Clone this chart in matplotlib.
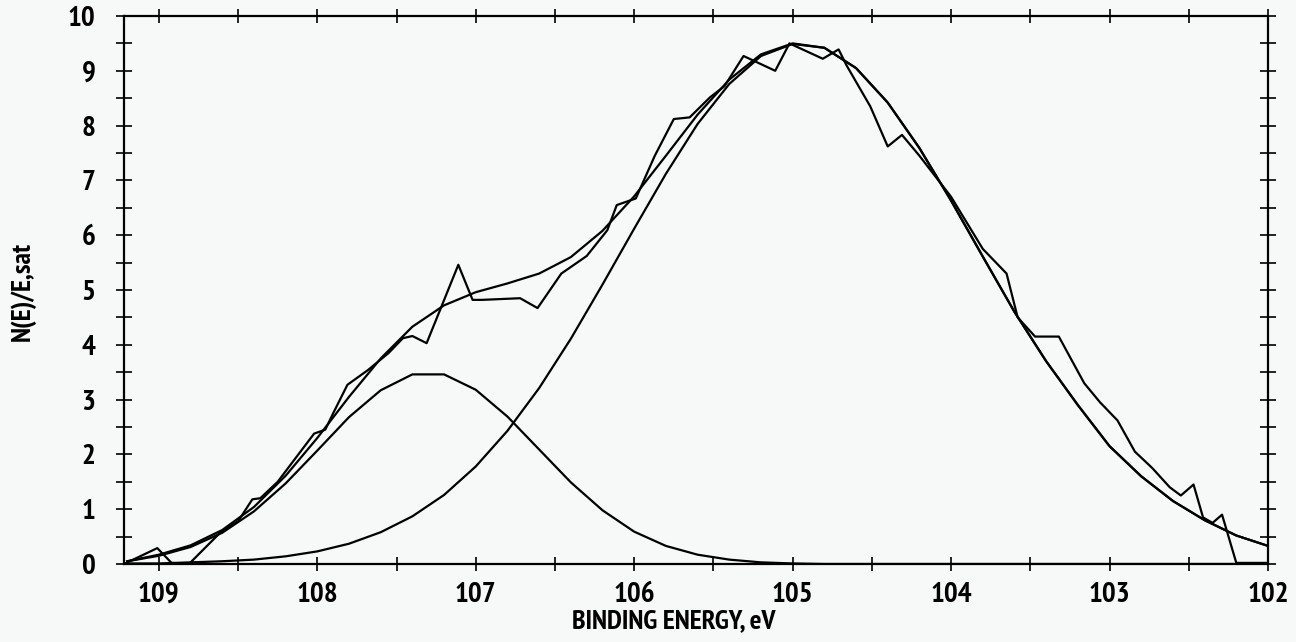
import matplotlib
matplotlib.use('Agg')
import matplotlib.pyplot as plt
from matplotlib.ticker import MultipleLocator, FormatStrFormatter

plt.rcParams['font.family'] = ['PT Sans Narrow', 'Roboto Condensed', 'Archivo Narrow', 'DejaVu Sans']

# measured spectrum (binding energy, eV)
data_energy = [109.22, 109.01, 108.92, 108.81, 108.61, 108.50, 108.41, 108.36, 108.25, 108.13,
               108.02, 107.95, 107.90, 107.81, 107.68, 107.55, 107.46, 107.40, 107.31, 107.11,
               107.02, 106.96, 106.72, 106.61, 106.46, 106.30, 106.17, 106.11, 105.99, 105.87,
               105.75, 105.65, 105.52, 105.43, 105.31, 105.11, 105.02, 104.81, 104.71, 104.66,
               104.51, 104.40, 104.31, 104.20, 104.00, 103.80, 103.65, 103.58, 103.47, 103.32,
               103.16, 103.06, 102.95, 102.84, 102.73, 102.62, 102.55, 102.47, 102.41, 102.35,
               102.29, 102.20, 102.00]
data_counts = [0.00, 0.29, 0.02, 0.00, 0.58, 0.78, 1.18, 1.20, 1.50, 1.96,
               2.38, 2.45, 2.75, 3.27, 3.54, 3.85, 4.12, 4.16, 4.03, 5.46,
               4.82, 4.82, 4.85, 4.67, 5.30, 5.62, 6.09, 6.55, 6.67, 7.45,
               8.12, 8.15, 8.52, 8.72, 9.27, 9.00, 9.50, 9.22, 9.39, 9.10,
               8.35, 7.62, 7.83, 7.45, 6.70, 5.75, 5.30, 4.50, 4.15, 4.15,
               3.30, 2.95, 2.62, 2.05, 1.75, 1.40, 1.25, 1.45, 0.85, 0.75,
               0.90, 0.02, 0.02]

# fitted curves, read at 0.2 eV steps
fit_energy = [109.2, 109.0, 108.8, 108.6, 108.4, 108.2, 108.0, 107.8, 107.6, 107.4,
              107.2, 107.0, 106.8, 106.6, 106.4, 106.2, 106.0, 105.8, 105.6, 105.4,
              105.2, 105.0, 104.8, 104.6, 104.4, 104.2, 104.0, 103.8, 103.6, 103.4,
              103.2, 103.0, 102.8, 102.6, 102.4, 102.2, 102.0]
peak1 = [0.05, 0.15, 0.31, 0.57, 0.96, 1.47, 2.07, 2.68, 3.17, 3.46,
         3.46, 3.18, 2.69, 2.09, 1.49, 0.98, 0.59, 0.33, 0.17, 0.08,
         0.03, 0.01, 0.0, 0.0, 0.0, 0.0, 0.0, 0.0, 0.0, 0.0,
         0.0, 0.0, 0.0, 0.0, 0.0, 0.0, 0.0]
peak2 = [0.01, 0.01, 0.03, 0.05, 0.08, 0.14, 0.23, 0.37, 0.58, 0.87,
         1.26, 1.78, 2.43, 3.21, 4.11, 5.10, 6.12, 7.12, 8.03, 8.76,
         9.27, 9.49, 9.42, 9.05, 8.42, 7.59, 6.63, 5.61, 4.60, 3.70,
         2.90, 2.15, 1.60, 1.15, 0.80, 0.52, 0.33]
fit_total = [0.05, 0.17, 0.34, 0.62, 1.04, 1.61, 2.30, 3.05, 3.75, 4.33,
             4.72, 4.96, 5.12, 5.30, 5.60, 6.08, 6.71, 7.45, 8.20, 8.84,
             9.30, 9.50, 9.42, 9.05, 8.42, 7.59, 6.63, 5.61, 4.60, 3.70,
             2.90, 2.15, 1.60, 1.15, 0.80, 0.52, 0.33]

bg = '#f7f8f8'
fig = plt.figure(figsize=(12.96, 6.42), dpi=100, facecolor=bg)
ax = fig.add_axes([124 / 1296, 1 - 564 / 642, (1268 - 124) / 1296, (564 - 16) / 642])
ax.set_facecolor(bg)

ax.plot(data_energy, data_counts, color='k', lw=1.6)
ax.plot(fit_energy, fit_total, color='k', lw=1.6)
ax.plot(fit_energy, peak1, color='k', lw=1.6)
ax.plot(fit_energy, peak2, color='k', lw=1.6)

ax.set_xlim(109.22, 102.0)
ax.set_ylim(0, 10)

ax.xaxis.set_major_locator(MultipleLocator(1))
ax.xaxis.set_minor_locator(MultipleLocator(0.5))
ax.yaxis.set_major_locator(MultipleLocator(1))
ax.yaxis.set_minor_locator(MultipleLocator(0.5))
ax.xaxis.set_major_formatter(FormatStrFormatter('%d'))
ax.yaxis.set_major_formatter(FormatStrFormatter('%d'))

for s in ax.spines.values():
    s.set_linewidth(1.6)

ax.tick_params(which='both', direction='inout', top=True, right=True,
               width=1.2, colors='k')
ax.tick_params(axis='x', which='both', length=10)
ax.tick_params(axis='y', which='both', length=11)
ax.tick_params(axis='x', which='major', pad=8, labelsize=21)
ax.tick_params(axis='y', which='major', pad=15, labelsize=21)
for lab in ax.get_xticklabels() + ax.get_yticklabels():
    lab.set_fontweight('bold')

fig.text(674 / 1296, 1 - 621 / 642, 'BINDING ENERGY, eV', ha='center', va='center',
         fontsize=20, fontweight='bold')
fig.text(23 / 1296, 1 - 291 / 642, 'N(E)/E,sat', ha='center', va='center',
         rotation=90, fontsize=20, fontweight='bold')

plt.savefig('out.png', dpi=100, facecolor=bg)
